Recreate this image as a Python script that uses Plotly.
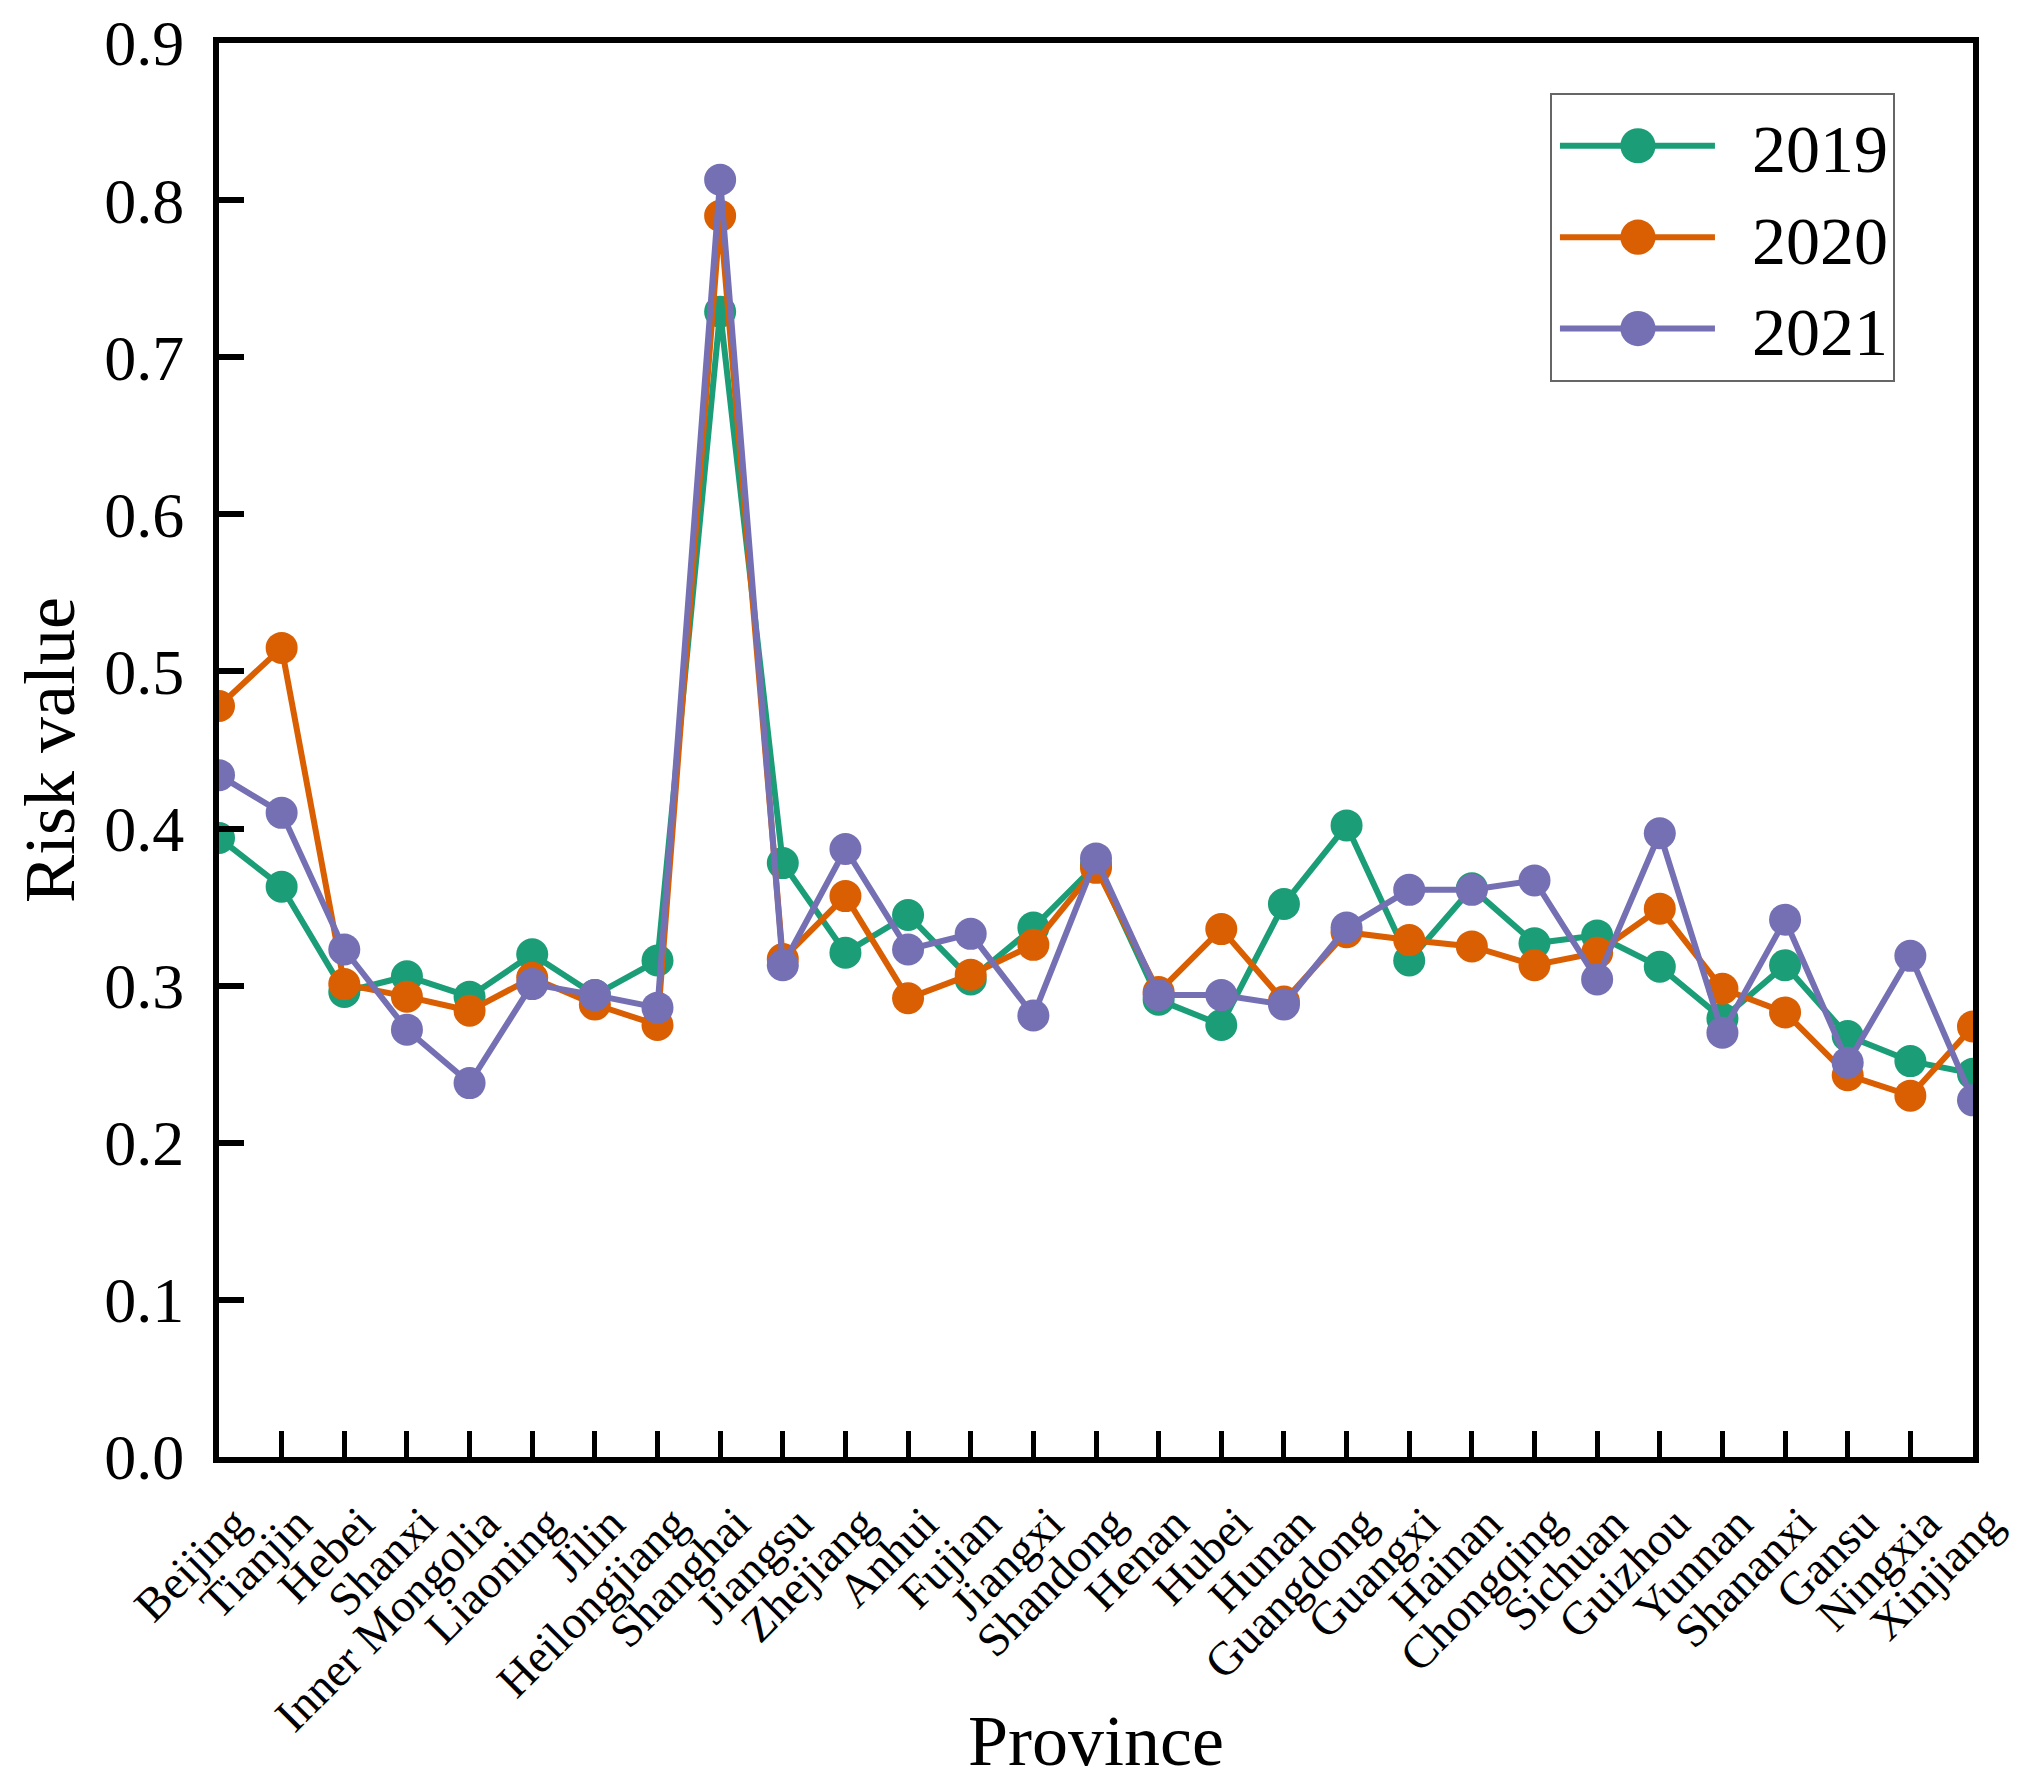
import plotly.graph_objects as go

# provinces on the x axis
provinces = ['Beijing', 'Tianjin', 'Hebei', 'Shanxi', 'Inner Mongolia', 'Liaoning', 'Jilin',
             'Heilongjiang', 'Shanghai', 'Jiangsu', 'Zhejiang', 'Anhui', 'Fujian', 'Jiangxi',
             'Shandong', 'Henan', 'Hubei', 'Hunan', 'Guangdong', 'Guangxi', 'Hainan',
             'Chongqing', 'Sichuan', 'Guizhou', 'Yunnan', 'Shananxi', 'Gansu', 'Ningxia',
             'Xinjiang']

# risk values
risk_2019 = [0.394, 0.363, 0.296, 0.306, 0.293, 0.320, 0.294, 0.316, 0.729, 0.378,
             0.321, 0.345, 0.304, 0.337, 0.377, 0.291, 0.275, 0.352, 0.402, 0.316,
             0.362, 0.327, 0.332, 0.312, 0.279, 0.313, 0.268, 0.252, 0.244]
risk_2020 = [0.478, 0.515, 0.301, 0.293, 0.284, 0.305, 0.288, 0.275, 0.790, 0.317,
             0.357, 0.292, 0.307, 0.326, 0.375, 0.296, 0.336, 0.290, 0.334, 0.329,
             0.325, 0.313, 0.321, 0.349, 0.298, 0.283, 0.243, 0.230, 0.274]
risk_2021 = [0.434, 0.410, 0.323, 0.272, 0.238, 0.301, 0.294, 0.286, 0.813, 0.313,
             0.387, 0.323, 0.333, 0.281, 0.381, 0.294, 0.294, 0.288, 0.337, 0.361,
             0.361, 0.367, 0.304, 0.397, 0.270, 0.342, 0.251, 0.319, 0.227]

y_ticks = [0.0, 0.1, 0.2, 0.3, 0.4, 0.5, 0.6, 0.7, 0.8, 0.9]

series = [('2019', risk_2019, '#1b9e77'),
          ('2020', risk_2020, '#d95f02'),
          ('2021', risk_2021, '#7570b3')]

font_family = 'Liberation Serif'

fig = go.Figure()
for name, vals, color in series:
    fig.add_trace(go.Scatter(
        x=provinces,
        y=vals,
        name=name,
        mode='lines+markers',
        line=dict(color=color, width=6),
        marker=dict(color=color, size=32),
    ))

fig.update_xaxes(
    title=dict(text='Province', font=dict(size=72, family=font_family, color='black'), standoff=0),
    type='category',
    range=[0, len(provinces) - 1],
    automargin=False,
    tickangle=-45,
    tickfont=dict(size=47, family=font_family, color='black'),
    ticklabelshift=16,
    ticklabelstandoff=14,
    ticks='inside', ticklen=26, tickwidth=5, tickcolor='black',
    showline=True, linewidth=6, linecolor='black', mirror=True,
    showgrid=False, zeroline=False,
)
fig.update_yaxes(
    title=dict(text='Risk value', font=dict(size=72, family=font_family, color='black'), standoff=8),
    range=[0, 0.9],
    automargin=False,
    tickvals=y_ticks,
    tickformat='.1f',
    tickfont=dict(size=64, family=font_family, color='black'),
    ticklabelstandoff=16,
    ticks='inside', ticklen=25, tickwidth=6, tickcolor='black',
    showline=True, linewidth=6, linecolor='black', mirror=True,
    showgrid=False, zeroline=False,
)

fig.update_layout(
    width=2029, height=1781,
    margin=dict(l=219, r=56, t=43, b=324),
    plot_bgcolor='white', paper_bgcolor='white',
    font=dict(family=font_family, color='black'),
    legend=dict(
        x=0.9555, y=0.9646, xanchor='right', yanchor='top',
        bgcolor='white', bordercolor='#666666', borderwidth=2,
        font=dict(size=68, family=font_family, color='black'),
        itemwidth=190,
    ),
    showlegend=True,
)

# no page margin; longer legend lines with bigger dots like the original
post = """
document.body.style.margin = '0px';
var gd = document.getElementById('{plot_id}');
gd.querySelectorAll('.legend .js-line').forEach(function(p) {
    p.setAttribute('d', 'M8,0h155');
});
gd.querySelectorAll('.legend path.scatterpts').forEach(function(p) {
    p.setAttribute('transform', 'translate(86,0) scale(2.2)');
});
"""

fig.write_html('out.html', post_script=post, config={'displayModeBar': False})
